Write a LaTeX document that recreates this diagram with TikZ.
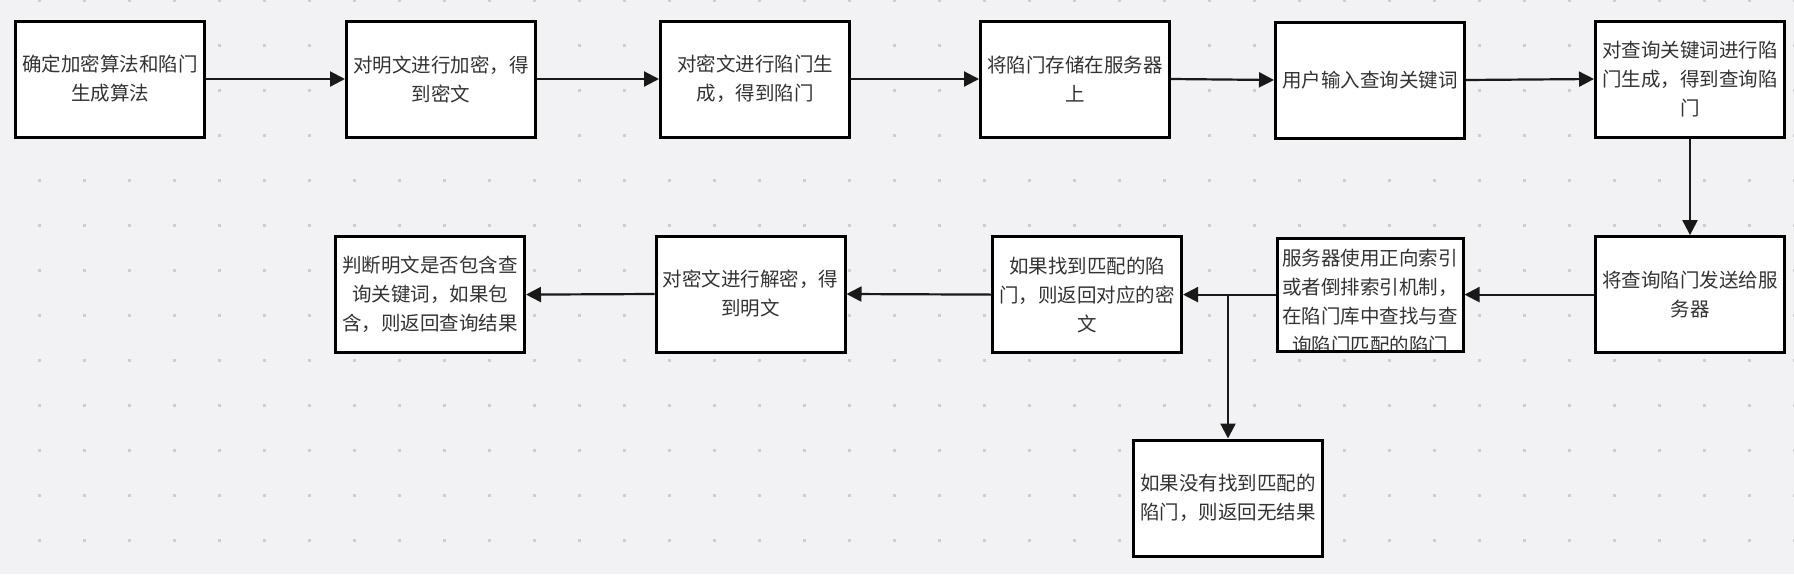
\documentclass[tikz,border=0pt]{standalone}
\usepackage{fontspec}
\newfontfamily\cjk{Noto Sans CJK SC}
\usetikzlibrary{arrows.meta}
\definecolor{bg}{HTML}{F2F2F4}
\definecolor{dotc}{HTML}{CDCDD2}
\definecolor{txt}{HTML}{333333}
\begin{document}
\begin{tikzpicture}[x=1pt,y=-1pt,
  box/.style={draw=black,fill=white,line width=3pt,minimum width=189pt,minimum height=116pt,inner sep=0pt,align=center,font=\cjk\fontsize{19.5}{29}\selectfont,text=txt},
  boxtext/.style={inner sep=0pt,align=center,font=\cjk\fontsize{19.5}{29}\selectfont,text=txt},
  link/.style={line width=2.2pt,draw=black!90,-{Triangle[length=15pt,width=15pt]}}]
\useasboundingbox (0,0) rectangle (1794,574);
\fill[bg] (0,0) rectangle (1794,574);
\foreach \x in {39,84,...,1794}
  \foreach \y in {0,45,...,574}
    \fill[dotc] (\x-1.5,\y-1.5) rectangle (\x+1.5,\y+1.5);

% row 1
\node[box] (b1) at (110,79) {确定加密算法和陷门\\生成算法};
\node[box] (b2) at (441,79) {对明文进行加密，得\\到密文};
\node[box] (b3) at (755,79) {对密文进行陷门生\\成，得到陷门};
\node[box] (b4) at (1075,79) {将陷门存储在服务器\\上};
\node[box] (b5) at (1370,80) {用户输入查询关键词};
\node[box] (b6) at (1690,79) {对查询关键词进行陷\\门生成，得到查询陷\\门};
% row 2
\node[box] (b7) at (1690,294.6) {将查询陷门发送给服\\务器};
\node[box,draw=none,outer sep=0pt,minimum width=186pt,minimum height=113pt] (b8) at (1370,294.6) {};
\begin{scope}
  \clip (b8.north west) rectangle (b8.south east);
  \node[boxtext] (b8t) at (1370,302) {服务器使用正向索引\\或者倒排索引机制，\\在陷门库中查找与查\\询陷门匹配的陷门};
\end{scope}
\draw[line width=3pt] (b8.north west) rectangle (b8.south east);
\node[box] (b9) at (1087,294.6) {如果找到匹配的陷\\门，则返回对应的密\\文};
\node[box] (b10) at (750.5,294) {对密文进行解密，得\\到明文};
\node[box] (b11) at (430,294.6) {判断明文是否包含查\\询关键词，如果包\\含，则返回查询结果};
\node[box] (b12) at (1228,498) {如果没有找到匹配的\\陷门，则返回无结果};

\coordinate (split) at (b12.north |- b9.east);

\draw[link] (b1.east) -- (b2.west);
\draw[link] (b2.east) -- (b3.west);
\draw[link] (b3.east) -- (b4.west);
\draw[link] (b4.east) -- (b5.west);
\draw[link] (b5.east) -- (b6.west);
\draw[link] (b6.south) -- (b7.north);
\draw[link] (b7.west) -- ([xshift=1.5pt]b8.east);
\draw[link] ([xshift=-1.5pt]b8.west) -- (b9.east);
\draw[link] (split) -- (b12.north);
\draw[link] (b9.west) -- (b10.east);
\draw[link] (b10.west) -- (b11.east);
\end{tikzpicture}
\end{document}
